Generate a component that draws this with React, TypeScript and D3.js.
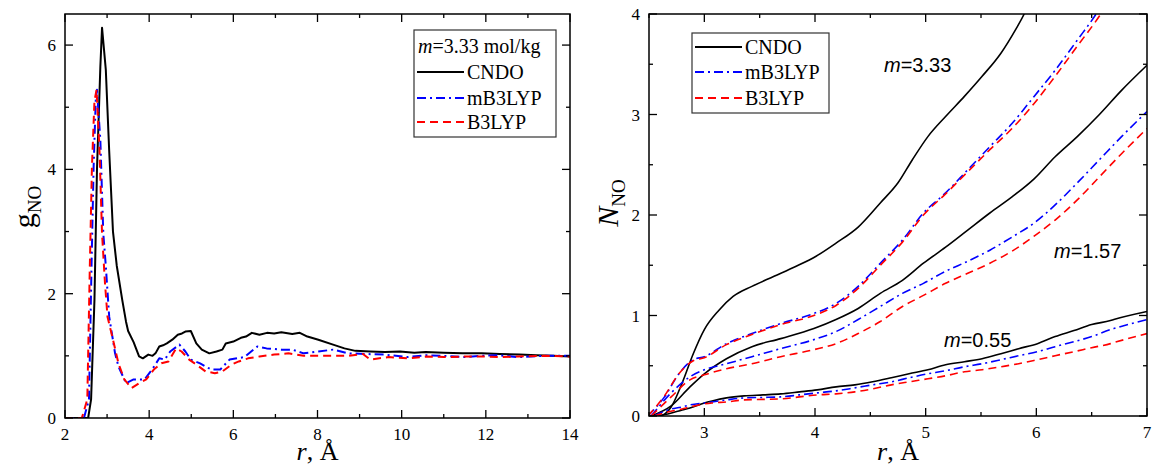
import React from "react";
import * as d3 from "d3";

// ---- Left panel: g_NO(r), m = 3.33 mol/kg ----
const gR_CNDO = [2.0, 2.55, 2.62, 2.70, 2.76, 2.84, 2.88, 2.97, 3.05, 3.14, 3.23, 3.36, 3.45, 3.5, 3.63, 3.76, 3.85, 3.98, 4.08, 4.15, 4.24, 4.33, 4.42, 4.55, 4.68, 4.78, 4.86, 4.99, 5.12, 5.25, 5.43, 5.6, 5.74, 5.82, 6.0, 6.18, 6.3, 6.44, 6.62, 6.8, 6.97, 7.14, 7.4, 7.58, 7.76, 8.02, 8.37, 8.64, 8.9, 9.25, 9.6, 9.96, 10.3, 10.57, 11.0, 11.45, 11.9, 12.33, 12.8, 13.2, 13.6, 14.0];
const gV_CNDO = [0, 0, 0.3, 1.9, 4.0, 5.65, 6.28, 5.6, 4.3, 3.0, 2.45, 1.9, 1.55, 1.4, 1.22, 0.99, 0.96, 1.02, 1.0, 1.04, 1.15, 1.17, 1.2, 1.26, 1.34, 1.36, 1.39, 1.4, 1.2, 1.1, 1.04, 1.07, 1.1, 1.2, 1.23, 1.29, 1.31, 1.37, 1.34, 1.37, 1.36, 1.38, 1.35, 1.37, 1.31, 1.26, 1.18, 1.12, 1.08, 1.07, 1.06, 1.07, 1.05, 1.06, 1.05, 1.04, 1.04, 1.03, 1.02, 1.01, 1.0, 0.99];
const gR_mB3 = [2.0, 2.45, 2.57, 2.63, 2.68, 2.73, 2.76, 2.84, 2.91, 2.97, 3.05, 3.19, 3.27, 3.45, 3.63, 3.89, 4.07, 4.24, 4.37, 4.5, 4.72, 4.86, 4.99, 5.21, 5.47, 5.69, 5.91, 6.09, 6.26, 6.57, 6.79, 7.14, 7.4, 7.67, 8.02, 8.37, 8.73, 9.16, 9.6, 10.13, 10.6, 11.0, 11.5, 11.9, 12.3, 12.77, 13.4, 14.0];
const gV_mB3 = [0, 0, 0.3, 2.44, 4.04, 5.1, 5.28, 4.47, 2.97, 2.44, 1.63, 1.04, 0.83, 0.56, 0.62, 0.62, 0.78, 0.96, 0.94, 1.07, 1.18, 1.07, 0.94, 0.88, 0.78, 0.78, 0.94, 0.96, 0.98, 1.15, 1.12, 1.1, 1.1, 1.04, 1.07, 1.1, 1.04, 1.03, 1.02, 0.98, 1.01, 1.0, 0.98, 1.0, 1.01, 0.98, 1.0, 1.0];
const gR_B3 = [2.0, 2.4, 2.53, 2.59, 2.64, 2.7, 2.75, 2.82, 2.88, 2.95, 3.01, 3.14, 3.27, 3.41, 3.58, 3.76, 3.93, 4.11, 4.29, 4.46, 4.64, 4.77, 4.95, 5.12, 5.34, 5.56, 5.74, 5.96, 6.13, 6.35, 6.62, 6.97, 7.31, 7.67, 8.2, 8.73, 9.08, 9.25, 9.69, 10.13, 10.6, 11.0, 11.5, 11.9, 12.4, 12.77, 13.4, 14.0];
const gV_B3 = [0, 0, 0.3, 2.44, 4.04, 5.1, 5.28, 4.3, 2.97, 2.17, 1.63, 1.26, 0.88, 0.62, 0.48, 0.56, 0.62, 0.78, 0.88, 0.91, 1.12, 1.07, 0.94, 0.86, 0.75, 0.72, 0.75, 0.86, 0.91, 0.96, 0.99, 1.02, 1.04, 1.0, 1.0, 1.0, 1.03, 0.94, 0.98, 0.96, 0.99, 0.98, 0.99, 0.99, 0.98, 0.99, 1.0, 0.99];

const leftXTicks = [2, 4, 6, 8, 10, 12, 14];
const leftYTicks = [0, 2, 4, 6];

// ---- Right panel: N_NO(r) ----
const nR_333_CNDO = [2.5, 2.59, 2.7, 2.8, 2.9, 3.0, 3.13, 3.26, 3.43, 3.63, 3.83, 4.01, 4.19, 4.39, 4.59, 4.75, 4.88, 5.02, 5.18, 5.35, 5.51, 5.68, 5.81, 5.89, 6.0];
const nV_333_CNDO = [0, 0, 0.09, 0.33, 0.62, 0.86, 1.05, 1.19, 1.29, 1.39, 1.49, 1.59, 1.72, 1.88, 2.12, 2.32, 2.55, 2.78, 2.98, 3.18, 3.38, 3.61, 3.84, 4.0, 4.3];
const nR_333_mB3 = [2.49, 2.64, 2.77, 2.9, 3.0, 3.2, 3.43, 3.69, 3.99, 4.19, 4.39, 4.59, 4.79, 4.98, 5.18, 5.38, 5.58, 5.78, 5.98, 6.17, 6.37, 6.54, 6.7];
const nV_333_mB3 = [0, 0.19, 0.42, 0.56, 0.59, 0.72, 0.82, 0.92, 1.02, 1.12, 1.29, 1.52, 1.75, 2.02, 2.22, 2.45, 2.68, 2.91, 3.18, 3.44, 3.74, 4.0, 4.3];
const nR_333_B3 = [2.49, 2.64, 2.77, 2.9, 3.0, 3.2, 3.43, 3.69, 3.99, 4.19, 4.39, 4.59, 4.79, 4.98, 5.18, 5.38, 5.58, 5.78, 5.98, 6.17, 6.37, 6.57, 6.75];
const nV_333_B3 = [0, 0.2, 0.42, 0.55, 0.58, 0.71, 0.81, 0.91, 1.0, 1.1, 1.27, 1.5, 1.73, 2.0, 2.21, 2.43, 2.65, 2.86, 3.11, 3.38, 3.68, 3.98, 4.3];

const nR_157 = [2.52, 2.7, 2.87, 3.0, 3.2, 3.43, 3.69, 3.99, 4.19, 4.39, 4.59, 4.79, 4.98, 5.18, 5.38, 5.58, 5.78, 5.98, 6.17, 6.37, 6.57, 6.77, 7.0];
const nV_157_CNDO = [0, 0.1, 0.29, 0.42, 0.57, 0.69, 0.77, 0.87, 0.96, 1.07, 1.22, 1.35, 1.52, 1.68, 1.85, 2.02, 2.18, 2.36, 2.58, 2.78, 3.0, 3.24, 3.49];
const nV_157_mB3 = [0, 0.23, 0.39, 0.46, 0.52, 0.59, 0.67, 0.76, 0.84, 0.96, 1.09, 1.22, 1.32, 1.44, 1.54, 1.65, 1.78, 1.92, 2.1, 2.32, 2.55, 2.78, 3.03];
const nV_157_B3 = [0, 0.19, 0.36, 0.41, 0.47, 0.52, 0.59, 0.66, 0.72, 0.82, 0.94, 1.09, 1.2, 1.32, 1.42, 1.52, 1.64, 1.79, 1.95, 2.15, 2.38, 2.61, 2.86];

const nR_055 = [2.55, 2.67, 2.8, 2.87, 3.0, 3.07, 3.2, 3.36, 3.53, 3.69, 3.86, 4.02, 4.19, 4.36, 4.52, 4.69, 4.85, 5.02, 5.18, 5.35, 5.51, 5.68, 5.84, 6.01, 6.17, 6.34, 6.5, 6.67, 6.7, 7.0];
const nV_055_CNDO = [0, 0.02, 0.06, 0.08, 0.13, 0.15, 0.18, 0.2, 0.21, 0.22, 0.24, 0.26, 0.29, 0.31, 0.34, 0.38, 0.42, 0.46, 0.51, 0.54, 0.57, 0.62, 0.67, 0.72, 0.79, 0.85, 0.91, 0.95, 0.96, 1.04];
const nV_055_mB3 = [0, 0.06, 0.09, 0.11, 0.13, 0.14, 0.16, 0.18, 0.185, 0.19, 0.21, 0.23, 0.25, 0.28, 0.31, 0.34, 0.38, 0.42, 0.45, 0.49, 0.52, 0.56, 0.6, 0.64, 0.69, 0.74, 0.79, 0.86, 0.87, 0.96];
const nV_055_B3 = [0, 0.04, 0.07, 0.09, 0.12, 0.13, 0.14, 0.16, 0.165, 0.17, 0.19, 0.21, 0.22, 0.24, 0.27, 0.31, 0.34, 0.37, 0.4, 0.44, 0.46, 0.49, 0.52, 0.56, 0.6, 0.64, 0.68, 0.72, 0.73, 0.82];

const rightXTicks = [3, 4, 5, 6, 7];
const rightYTicks = [0, 1, 2, 3, 4];

const legendNames = ["CNDO", "mB3LYP", "B3LYP"];
const seriesColors = ["#000000", "#0000ff", "#ff0000"];
const seriesDash = ["", "9,4,2,4", "8,5"];

const SERIF = "'Liberation Serif', 'Times New Roman', serif";
const SANS = "'Liberation Sans', Arial, sans-serif";

function zip(xs: number[], ys: number[]): [number, number][] {
  return xs.map((x, i) => [x, ys[i]]);
}

type Ser = { pts: [number, number][]; k: number };

function Panel(props: {
  left: number; right: number; top: number; bottom: number;
  xDomain: [number, number]; yDomain: [number, number];
  xTicks: number[]; yTicks: number[]; xMinor: number; yMinor: number;
  series: Ser[]; curve: any; width: number; id: string;
  children?: React.ReactNode;
}) {
  const { left, right, top, bottom, xDomain, yDomain, xTicks, yTicks, xMinor, yMinor, series, curve, width, id } = props;
  const x = d3.scaleLinear().domain(xDomain).range([left, right]);
  const y = d3.scaleLinear().domain(yDomain).range([bottom, top]);
  const line = d3.line<[number, number]>().x(d => x(d[0])).y(d => y(d[1])).curve(curve);
  const xm = d3.range(xDomain[0], xDomain[1] + 1e-9, xMinor).filter(v => !xTicks.some(t => Math.abs(t - v) < 1e-9));
  const ym = d3.range(yDomain[0], yDomain[1] + 1e-9, yMinor).filter(v => !yTicks.some(t => Math.abs(t - v) < 1e-9));
  const MAJ = 8, MIN = 4;
  return (
    <g>
      <defs>
        <clipPath id={id}>
          <rect x={left} y={top} width={right - left} height={bottom - top} />
        </clipPath>
      </defs>
      <g clipPath={`url(#${id})`}>
        {series.map((s, i) => (
          <path key={i} d={line(s.pts) || ""} fill="none" stroke={seriesColors[s.k]}
            strokeWidth={width} strokeDasharray={seriesDash[s.k]} strokeLinejoin="round" />
        ))}
      </g>
      <rect x={left} y={top} width={right - left} height={bottom - top} fill="none" stroke="#000" strokeWidth={1.5} />
      {xTicks.map(t => (
        <g key={"xt" + t}>
          <line x1={x(t)} x2={x(t)} y1={bottom} y2={bottom - MAJ} stroke="#000" strokeWidth={1.3} />
          <line x1={x(t)} x2={x(t)} y1={top} y2={top + MAJ} stroke="#000" strokeWidth={1.3} />
          <text x={x(t)} y={bottom + 22} textAnchor="middle" fontFamily={SERIF} fontSize={17}>{t}</text>
        </g>
      ))}
      {xm.map(t => (
        <g key={"xm" + t}>
          <line x1={x(t)} x2={x(t)} y1={bottom} y2={bottom - MIN} stroke="#000" strokeWidth={1.3} />
          <line x1={x(t)} x2={x(t)} y1={top} y2={top + MIN} stroke="#000" strokeWidth={1.3} />
        </g>
      ))}
      {yTicks.map(t => (
        <g key={"yt" + t}>
          <line x1={left} x2={left + MAJ} y1={y(t)} y2={y(t)} stroke="#000" strokeWidth={1.3} />
          <line x1={right} x2={right - MAJ} y1={y(t)} y2={y(t)} stroke="#000" strokeWidth={1.3} />
          <text x={left - 9} y={y(t) + 6} textAnchor="end" fontFamily={SERIF} fontSize={17}>{t}</text>
        </g>
      ))}
      {ym.map(t => (
        <g key={"ym" + t}>
          <line x1={left} x2={left + MIN} y1={y(t)} y2={y(t)} stroke="#000" strokeWidth={1.3} />
          <line x1={right} x2={right - MIN} y1={y(t)} y2={y(t)} stroke="#000" strokeWidth={1.3} />
        </g>
      ))}
      <text x={(left + right) / 2} y={460} textAnchor="middle" fontFamily={SERIF} fontSize={26}>
        <tspan fontStyle="italic">r</tspan>, Å
      </text>
      {props.children}
    </g>
  );
}

function Legend(props: { x: number; y: number; w: number; h: number; rows: number[]; header?: boolean }) {
  const { x, y, w, h, rows, header } = props;
  return (
    <g>
      <rect x={x} y={y} width={w} height={h} fill="#fff" stroke="#333" strokeWidth={1.2} />
      {header && (
        <text x={x + 4} y={y + 23} fontFamily={SERIF} fontSize={20}>
          <tspan fontStyle="italic">m</tspan>=3.33 mol/kg
        </text>
      )}
      {legendNames.map((n, i) => (
        <g key={n}>
          <line x1={x + 3} x2={x + 50} y1={rows[i]} y2={rows[i]} stroke={seriesColors[i]} strokeWidth={2}
            strokeDasharray={seriesDash[i]} />
          <text x={x + 53} y={rows[i] + 7} fontFamily={SERIF} fontSize={20}>{n}</text>
        </g>
      ))}
    </g>
  );
}

export default function App() {
  const leftSeries: Ser[] = [
    { pts: zip(gR_CNDO, gV_CNDO), k: 0 },
    { pts: zip(gR_mB3, gV_mB3), k: 1 },
    { pts: zip(gR_B3, gV_B3), k: 2 },
  ];
  const rightSeries: Ser[] = [
    { pts: zip(nR_333_CNDO, nV_333_CNDO), k: 0 },
    { pts: zip(nR_333_mB3, nV_333_mB3), k: 1 },
    { pts: zip(nR_333_B3, nV_333_B3), k: 2 },
    { pts: zip(nR_157, nV_157_CNDO), k: 0 },
    { pts: zip(nR_157, nV_157_mB3), k: 1 },
    { pts: zip(nR_157, nV_157_B3), k: 2 },
    { pts: zip(nR_055, nV_055_CNDO), k: 0 },
    { pts: zip(nR_055, nV_055_mB3), k: 1 },
    { pts: zip(nR_055, nV_055_B3), k: 2 },
  ];
  return (
    <svg width={1153} height={468} style={{ position: "absolute", left: 0, top: 0, background: "#fff" }}>
      <Panel id="clipL" left={65} right={570} top={14} bottom={418} xDomain={[2, 14]} yDomain={[0, 6.5]}
        xTicks={leftXTicks} yTicks={leftYTicks} xMinor={1} yMinor={1} series={leftSeries}
        curve={d3.curveLinear} width={2}>
        <text transform="translate(34,207) rotate(-90)" textAnchor="middle" fontFamily={SERIF} fontSize={30}>
          g<tspan fontSize={19} dy={7}>NO</tspan>
        </text>
        <Legend x={414} y={30} w={142} h={107} header rows={[72, 98, 122]} />
      </Panel>
      <Panel id="clipR" left={649} right={1147} top={14} bottom={416} xDomain={[2.5, 7]} yDomain={[0, 4]}
        xTicks={rightXTicks} yTicks={rightYTicks} xMinor={0.5} yMinor={0.5} series={rightSeries}
        curve={d3.curveMonotoneX} width={1.6}>
        <text transform="translate(618,203) rotate(-90)" textAnchor="middle" fontFamily={SERIF} fontSize={30}>
          <tspan fontStyle="italic">N</tspan><tspan fontSize={19} dy={7}>NO</tspan>
        </text>
        <Legend x={692} y={33} w={137} h={80} rows={[47, 72, 98]} />
        <text x={884} y={72} fontFamily={SANS} fontSize={20}><tspan fontStyle="italic">m</tspan>=3.33</text>
        <text x={1054} y={258} fontFamily={SANS} fontSize={20}><tspan fontStyle="italic">m</tspan>=1.57</text>
        <text x={944} y={347} fontFamily={SANS} fontSize={20}><tspan fontStyle="italic">m</tspan>=0.55</text>
      </Panel>
    </svg>
  );
}
